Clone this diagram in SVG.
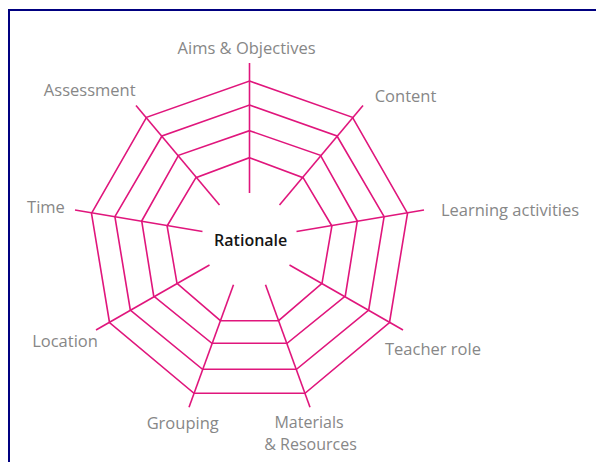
<svg xmlns="http://www.w3.org/2000/svg" width="596" height="462" viewBox="0 0 596 462">
<style>
.web{fill:none;stroke:#e0167c;stroke-width:1.6;stroke-linejoin:miter}
.spk{stroke:#e0167c;stroke-width:1.6;fill:none}
.lbl{font-family:"Open Sans","Noto Sans","Liberation Sans",sans-serif;font-size:16.5px;font-weight:500;fill:#878787;text-anchor:middle}
.ctr{font-family:"Open Sans","Noto Sans","Liberation Sans",sans-serif;font-size:16px;font-weight:600;fill:#151515;text-anchor:middle}
</style>
<rect width="596" height="462" fill="#ffffff"/>
<path d="M9,462 V10 H596" fill="none" stroke="#000080" stroke-width="2"/>
<g id="web">
<polygon class="web" points="249.5,81 352.5,117.3 407.5,213.3 389.5,322.5 305,393.3 194,393.3 109.5,322.5 91.5,213.3 146.5,117.3"/>
<polygon class="web" points="249.5,105 337,136 384.1,216.7 368.7,310 296.5,369.3 202.5,369.3 130.3,310 114.9,216.7 162,136"/>
<polygon class="web" points="249.5,130.7 320.5,155.3 357.3,221 345.3,296 287.1,343.3 211.9,343.3 153.7,296 141.7,221 178.5,155.3"/>
<polygon class="web" points="249.5,157.7 303.1,177.7 331.9,226 322,283.3 278.6,320.7 220.4,320.7 177,283.3 167.1,226 195.9,177.7"/>
</g>
<g id="connectors">
<line class="spk" x1="249.5" y1="63" x2="249.5" y2="193"/>
<line class="spk" x1="363" y1="105.5" x2="279.5" y2="205"/>
<line class="spk" x1="136" y1="105.5" x2="219.5" y2="205"/>
<line class="spk" x1="424" y1="210" x2="296.5" y2="231.5"/>
<line class="spk" x1="75" y1="210" x2="202.5" y2="231.5"/>
<line class="spk" x1="403" y1="330" x2="289.5" y2="265"/>
<line class="spk" x1="96" y1="330" x2="209.5" y2="265"/>
<line class="spk" x1="310" y1="407.3" x2="265.5" y2="284.7"/>
<line class="spk" x1="189" y1="407.3" x2="233.5" y2="284.7"/>
</g>
<g id="rationale"><text class="ctr" x="250.7" y="245.5">Rationale</text></g>
<g id="aims"><text class="lbl" x="246.6" y="53.5">Aims &amp; Objectives</text></g>
<g id="content"><text class="lbl" x="405.5" y="102">Content</text></g>
<g id="learning"><text class="lbl" x="510" y="216">Learning activities</text></g>
<g id="teacher"><text class="lbl" x="433" y="354.5">Teacher role</text></g>
<g id="materials"><text class="lbl" x="309" y="427.5" style="font-size:16px">Materials</text><text class="lbl" x="310.5" y="450" style="font-size:16px">&amp; Resources</text></g>
<g id="grouping"><text class="lbl" x="182.7" y="429">Grouping</text></g>
<g id="location"><text class="lbl" x="65" y="347">Location</text></g>
<g id="time"><text class="lbl" x="46" y="213">Time</text></g>
<g id="assessment"><text class="lbl" x="89.7" y="95.5">Assessment</text></g>
</svg>
